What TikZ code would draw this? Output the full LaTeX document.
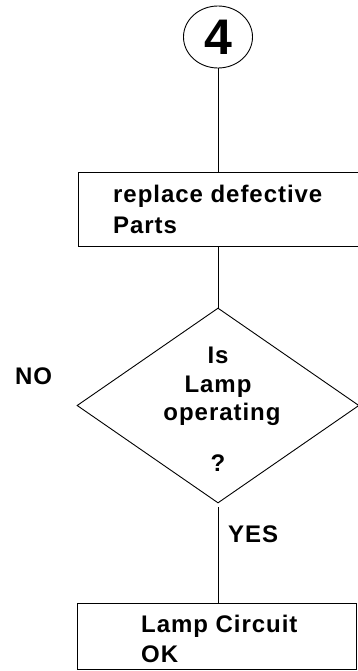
\documentclass[tikz,border=0pt]{standalone}
\usepackage{fontspec}
\setmainfont{Liberation Sans}
\newfontfamily\lab[LetterSpace=4]{Liberation Sans}
\usetikzlibrary{shapes.geometric}
\tikzset{
  ln/.style={line width=0.9pt},
  boxnode/.style={draw, ln, rectangle, inner sep=0pt, anchor=north west},
  txt/.style={inner sep=0pt, anchor=base west, font=\lab\bfseries\fontsize{24}{28}\selectfont},
  ctxt/.style={inner sep=0pt, anchor=base, font=\lab\bfseries\fontsize{24}{28}\selectfont},
}
\begin{document}
\begin{tikzpicture}[x=1pt,y=-1pt]
\useasboundingbox (0,0) rectangle (357,671);
% start connector
\node[draw, ln, ellipse, minimum width=69pt, minimum height=62pt, inner sep=0pt,
      font=\bfseries\fontsize{50}{50}\selectfont] (c4) at (218,37) {4};
% box 1
\node[boxnode, minimum width=284pt, minimum height=74pt] (b1) at (78,172) {};
\node[txt] (t1a) at (113,202) {replace defective};
\node[txt] (t1b) at (113,233) {Parts};
% diamond
\node[draw, ln, diamond, inner sep=0pt, minimum width=282pt, minimum height=195pt] (d) at (218,405.5) {};
\node[ctxt] (q1) at (218,363) {Is};
\node[ctxt] (q2) at (218,392) {Lamp};
\node[ctxt] (q3) at (222,420) {operating};
\node[ctxt] (q4) at (218,471) {?};
\node[txt] (no) at (15,384) {NO};
% box 2
\node[boxnode, minimum width=279pt, minimum height=66pt] (b2) at (77,603) {};
\node[txt] (t2a) at (141,632) {Lamp Circuit};
\node[txt] (t2b) at (141,662) {OK};
\node[txt] (yes) at (228,542) {YES};
% connectors
\draw[ln] (c4.south) -- (c4.south |- b1.north);
\draw[ln] (b1.south -| d.north) -- (d.north);
\draw[ln, shorten <=4pt] (d.south) -- (d.south |- b2.north);
\end{tikzpicture}
\end{document}
